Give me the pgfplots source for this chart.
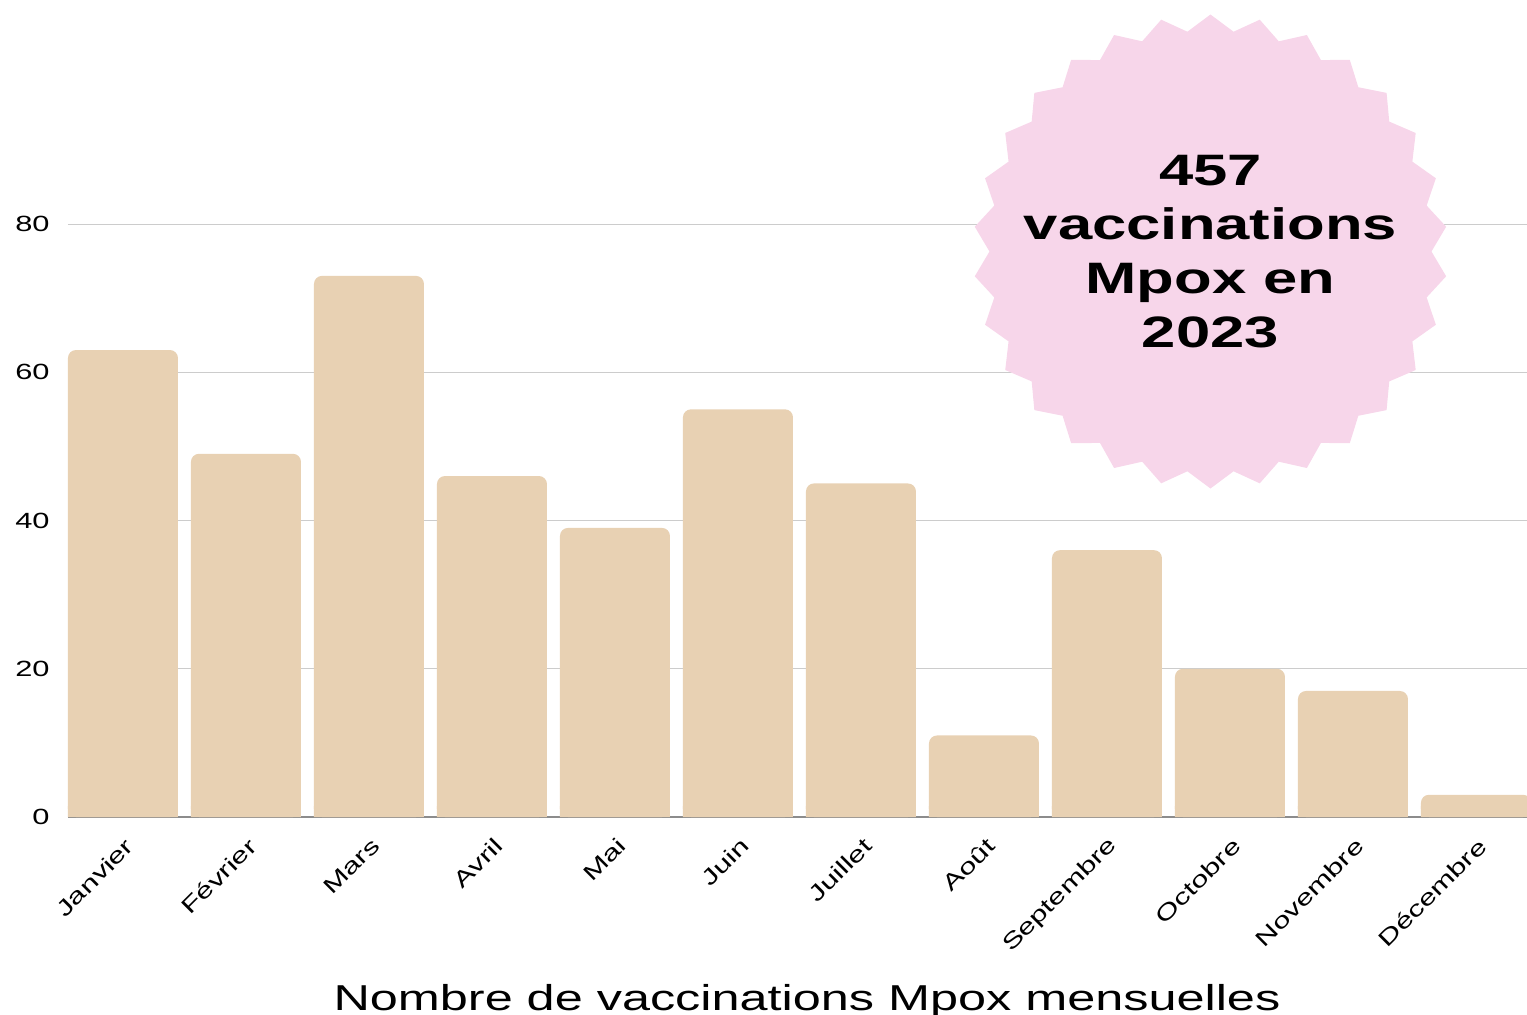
\documentclass[border=0pt]{standalone}
\usepackage{fontspec}
\setmainfont[FakeStretch=1.4]{Liberation Sans}
\usepackage{pgfplots}
\pgfplotsset{compat=1.18}
\definecolor{barc}{HTML}{E8D1B3}
\definecolor{starpink}{HTML}{F7D6EA}
\definecolor{gridc}{HTML}{CCCCCC}
\definecolor{basec}{HTML}{8C8C8C}
\begin{document}
\begin{tikzpicture}
\begin{axis}[
  name=ax,
  scale only axis,
  width=729.5pt, height=408.5pt,
  xmin=-0.447, xmax=11.415,
  ymin=0, ymax=110.22,
  axis line style={draw=none},
  tick style={draw=none},
  ytick={0,20,40,60,80},
  extra y ticks={0},
  extra y tick labels={},
  extra y tick style={grid style={basec, line width=0.6pt}},
  ymajorgrids,
  grid style={gridc, line width=0.5pt},
  yticklabel style={font=\fontsize{11}{13}\selectfont, anchor=east, inner sep=0pt, xshift=-9pt},
  /pgf/number format/assume math mode=true,
  xtick={0,...,11},
  xticklabels={Janvier,Février,Mars,Avril,Mai,Juin,Juillet,Août,Septembre,Octobre,Novembre,Décembre},
  xticklabel style={xshift=3.5pt, yshift=-12.5pt, rotate=45, anchor=east, inner sep=0pt, font=\fontsize{11}{13}\selectfont},
  xlabel={Nombre de vaccinations Mpox mensuelles},
  xlabel style={font=\fontsize{18}{22}\selectfont, at={(axis description cs:0.5065,0)}, anchor=base, yshift=-96.5pt, inner sep=0pt},
]
\addplot[ybar, bar width=55pt, bar shift=0pt, fill=barc, draw=none, rounded corners=4pt]
  coordinates {(0,63) (1,49) (2,73) (3,46) (4,39) (5,55) (6,45) (7,11) (8,36) (9,20) (10,17) (11,3)};
\addplot[ybar, bar width=55pt, bar shift=0pt, fill=barc, draw=none, forget plot]
  coordinates {(0,1.5) (1,1.5) (2,1.5) (3,1.5) (4,1.5) (5,1.5) (6,1.5) (7,1.5) (8,1.5) (9,1.5) (10,1.5) (11,1.5)};
\coordinate (star) at (axis cs:8.8415,76.29);
\end{axis}
\begin{scope}[shift={(star)}]
\fill[starpink] (90:118.5pt) \foreach \i in {0,...,29} { -- ({96+12*\i}:110.5pt) -- ({102+12*\i}:118.5pt) } -- cycle;
\end{scope}
\node[align=center, font=\fontsize{22}{27}\selectfont\bfseries, inner sep=0pt] at (star) {457\\vaccinations\\Mpox en\\2023};
\pgfresetboundingbox
\path ([xshift=-34pt,yshift=-98.5pt]ax.south west) rectangle (ax.north east);
\end{tikzpicture}
\end{document}
